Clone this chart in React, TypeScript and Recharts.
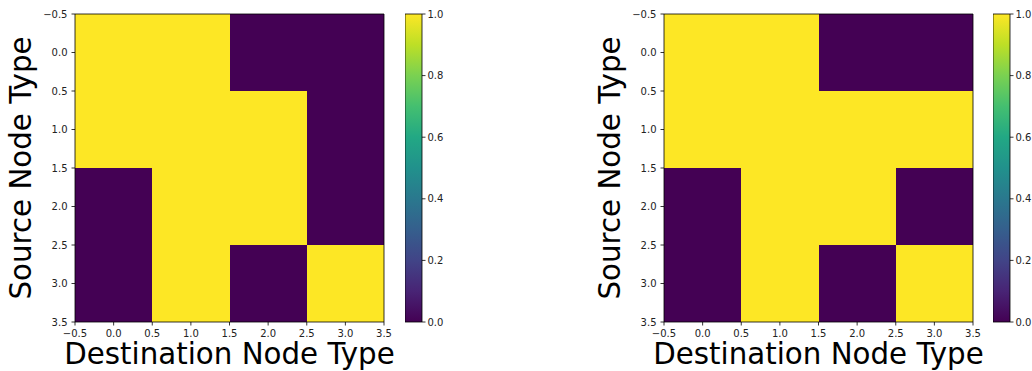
import { ComposedChart, ReferenceArea, XAxis, YAxis } from 'recharts';

const FONT = 'DejaVu Sans, Verdana, sans-serif';
const LOW = '#440154';
const HIGH = '#fde725';

const nodeTypes = [0, 1, 2, 3];
const axisTicks = [-0.5, 0, 0.5, 1, 1.5, 2, 2.5, 3, 3.5];
const colorbarTicks = [0, 0.2, 0.4, 0.6, 0.8, 1];

// rows = source node type, columns = destination node type
const leftMatrix = [
  [1, 1, 0, 0],
  [1, 1, 1, 0],
  [0, 1, 1, 0],
  [0, 1, 0, 1],
];
const rightMatrix = [
  [1, 1, 0, 0],
  [1, 1, 1, 1],
  [0, 1, 1, 0],
  [0, 1, 0, 1],
];

const viridisStops = [
  '#440154', '#482475', '#414487', '#355f8d', '#2a788e', '#21918c',
  '#22a884', '#44bf70', '#7ad151', '#bddf26', '#fde725',
];

function fmt(v: number): string {
  return (v < 0 ? '\u2212' : '') + Math.abs(v).toFixed(1);
}

const tickStyle = { fontSize: 10, fill: '#222', fontFamily: FONT };

function Heatmap({ matrix, left }: { matrix: number[][]; left: number }) {
  const cells = matrix.flatMap((row, r) => row.map((v, c) => ({ x: nodeTypes[c], y: nodeTypes[r], v })));
  return (
    <div style={{ position: 'absolute', left, top: 0 }}>
      <ComposedChart width={400} height={371} data={cells} margin={{ top: 14, right: 16, bottom: 0, left: 0 }}>
        <XAxis
          type="number"
          dataKey="x"
          domain={[-0.5, 3.5]}
          ticks={axisTicks}
          tickFormatter={fmt}
          allowDataOverflow
          interval={0}
          height={49}
          axisLine={false}
          tickSize={3.5}
          tickMargin={4}
          tickLine={{ stroke: '#000', strokeWidth: 0.8 }}
          tick={tickStyle}
          label={{
            value: 'Destination Node Type',
            position: 'insideBottom',
            offset: 7,
            fontSize: 29.3,
            fill: '#000',
            fontFamily: FONT,
          }}
        />
        <YAxis
          type="number"
          dataKey="y"
          reversed
          domain={[-0.5, 3.5]}
          ticks={axisTicks}
          tickFormatter={fmt}
          allowDataOverflow
          interval={0}
          width={75}
          axisLine={false}
          tickSize={3.5}
          tickMargin={4}
          tickLine={{ stroke: '#000', strokeWidth: 0.8 }}
          tick={tickStyle}
          label={{
            value: 'Source Node Type',
            position: 'insideLeft',
            angle: -90,
            offset: 21,
            fontSize: 29.3,
            fill: '#000',
            fontFamily: FONT,
            style: { textAnchor: 'middle' },
          }}
        />
        {cells.map((cell) => (
          <ReferenceArea
            key={`${cell.x}-${cell.y}`}
            x1={cell.x - 0.5}
            x2={cell.x + 0.5}
            y1={cell.y - 0.5}
            y2={cell.y + 0.5}
            fill={cell.v ? HIGH : LOW}
            fillOpacity={1}
            stroke="none"
            shapeRendering="crispEdges"
          />
        ))}
        <ReferenceArea x1={-0.5} x2={3.5} y1={-0.5} y2={3.5} fill="none" stroke="#000" strokeWidth={0.8} />
      </ComposedChart>
    </div>
  );
}

function Colorbar({ left, id }: { left: number; id: string }) {
  return (
    <div style={{ position: 'absolute', left, top: 0 }}>
      <ComposedChart width={60} height={371} data={[{ x: 0, y: 0 }, { x: 1, y: 1 }]} margin={{ top: 14, right: 0, bottom: 49, left: 0 }}>
        <defs>
          <linearGradient id={id} x1="0" y1="1" x2="0" y2="0">
            {viridisStops.map((c, i) => (
              <stop key={c} offset={i / (viridisStops.length - 1)} stopColor={c} />
            ))}
          </linearGradient>
        </defs>
        <XAxis type="number" dataKey="x" domain={[0, 1]} hide />
        <YAxis
          type="number"
          dataKey="y"
          orientation="right"
          domain={[0, 1]}
          ticks={colorbarTicks}
          tickFormatter={(v: number) => v.toFixed(1)}
          interval={0}
          width={43}
          axisLine={false}
          tickSize={3.5}
          tickMargin={2}
          tickLine={{ stroke: '#000', strokeWidth: 0.8 }}
          tick={tickStyle}
        />
        <ReferenceArea x1={0} x2={1} y1={0} y2={1} fill={`url(#${id})`} fillOpacity={1} stroke="#000" strokeWidth={0.8} />
      </ComposedChart>
    </div>
  );
}

export default function App() {
  return (
    <div style={{ position: 'fixed', left: 0, top: 0, width: 1032, height: 371, overflow: 'hidden', background: '#fff' }}>
      <Heatmap matrix={leftMatrix} left={0} />
      <Colorbar left={405} id="viridis-left" />
      <Heatmap matrix={rightMatrix} left={589} />
      <Colorbar left={993} id="viridis-right" />
    </div>
  );
}
